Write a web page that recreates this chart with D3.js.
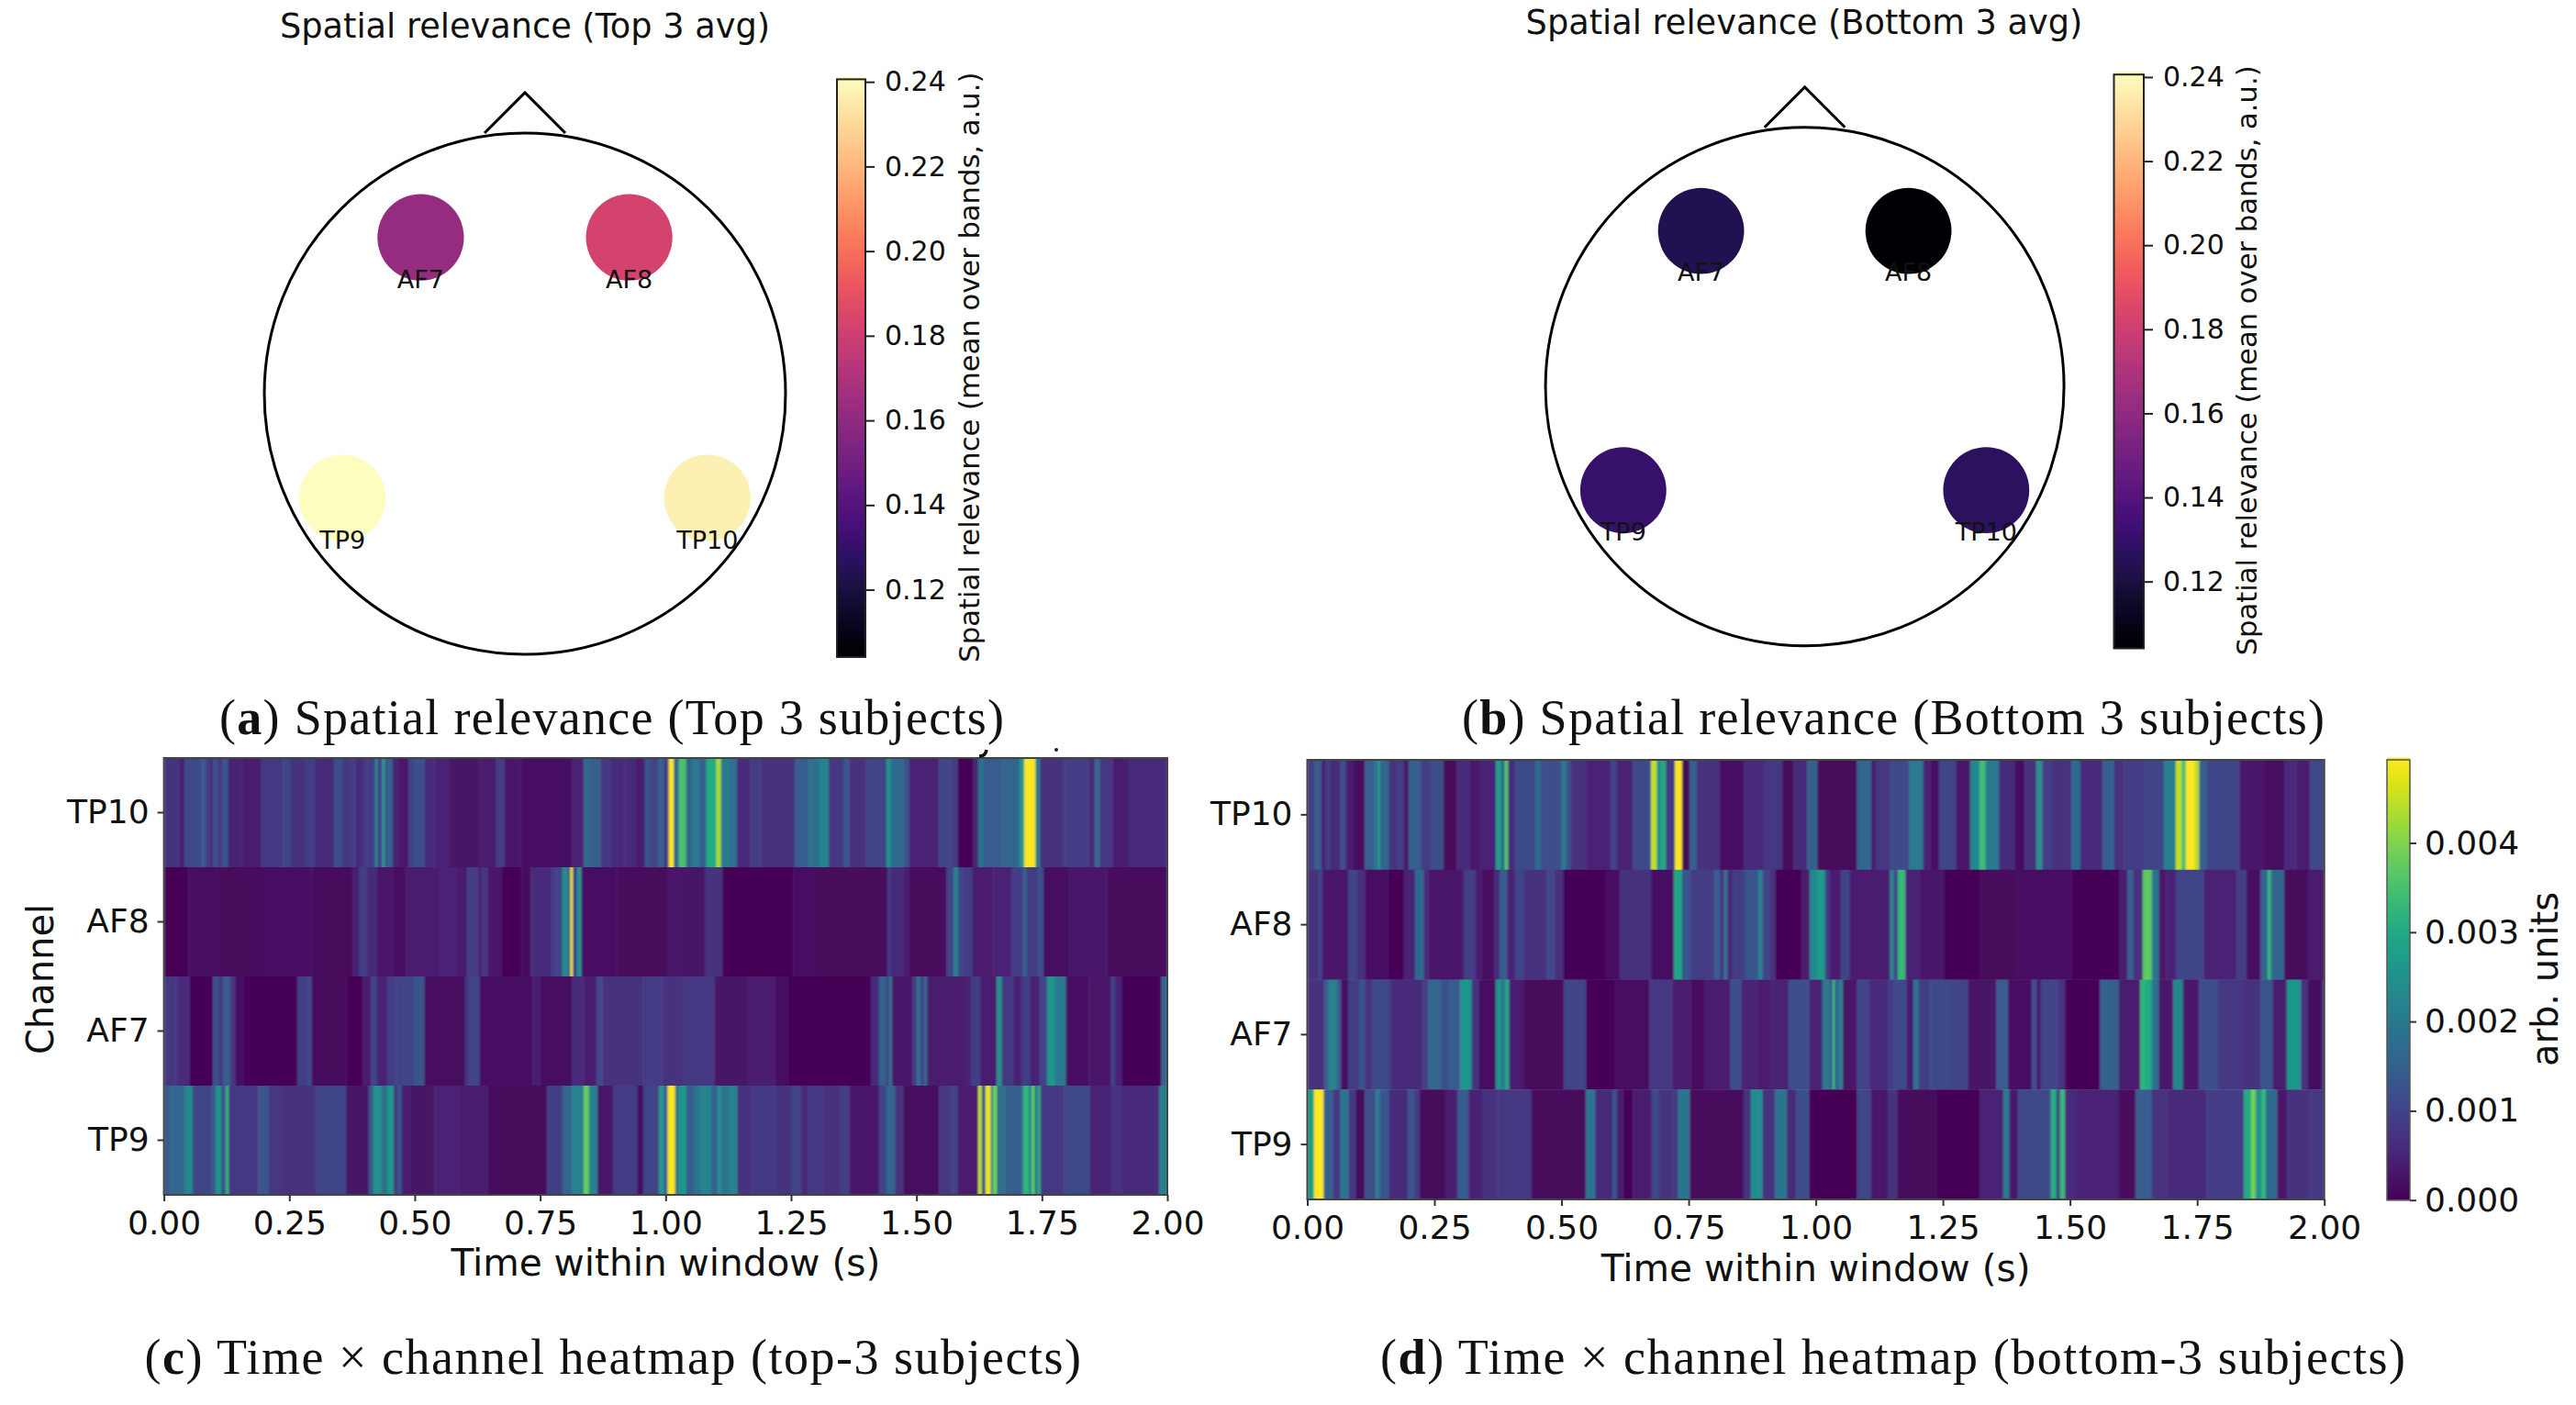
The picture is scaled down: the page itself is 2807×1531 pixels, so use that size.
<!DOCTYPE html>
<html><head><meta charset="utf-8">
<script src="https://cdn.jsdelivr.net/npm/d3@7"></script>
<style>
html,body{margin:0;padding:0;background:#fff}
svg{display:block}
text{font-family:"DejaVu Sans";fill:#111}
.cap{font-family:"Liberation Serif";font-size:54px;fill:#111}
</style></head><body>
<svg id="fig" width="2807" height="1531" viewBox="0 0 2807 1531"></svg>
<script>
// ---------- Data ----------
const channels = ["TP10","AF8","AF7","TP9"];
const timeTicks = [0,0.25,0.5,0.75,1,1.25,1.5,1.75,2];
const heatTicks = [0,1,2,3,4]; // in 1e-3 arb. units
const spatialTicks = [0.12,0.14,0.16,0.18,0.20,0.22,0.24];
const electrodes = [
  {name:"AF7",x:-0.4,y:0.6},{name:"AF8",x:0.4,y:0.6},
  {name:"TP9",x:-0.7,y:-0.4},{name:"TP10",x:0.7,y:-0.4}];
const spatialTop = {AF7:0.162,AF8:0.182,TP9:0.2406,TP10:0.2365};
const spatialBottom = {AF7:0.1235,AF8:0.1041,TP9:0.130,TP10:0.127};
const noseShape = [[-0.155,1],[0,1.155],[0.155,1]];
const heatMax = 4.93; // in 1e-3 arb. units

// Each row: [end of stretch in ms, value in 1e-3 arb. units]
const topTP10 = [[33,.7],[41,.4],[74,1.1],[82,1.4],[94,.9],[98,.4],[106,1.2],[118,.9],[128,1.3],[155,.5],[188,.4],[192,.1],[237,.8],[253,1.0],[282,.7],[302,.9],[339,.6],[355,1.2],[368,.8],[382,.9],[396,.6],[404,.8],[421,.9],[426,2.4],[435,.9],[440,2.8],[445,1.3],[456,1.5],[466,.5],[488,.3],[498,1.0],[519,1.2],[539,.6],[568,.5],[629,.25],[662,.4],[678,.9],[711,.3],[813,.2],[837,.5],[847,1.7],[870,1.5],[890,.8],[918,.6],[940,.6],[955,.4],[959,.6],[970,1.3],[985,1.0],[996,1.5],[1006,.9],[1016,4.9],[1026,1.6],[1041,3.5],[1052,1.5],[1067,2.0],[1081,1.5],[1101,3.0],[1110,4.3],[1127,2.0],[1142,1.8],[1168,.6],[1190,.9],[1220,.7],[1257,.7],[1283,1.4],[1306,1.8],[1325,2.2],[1354,.8],[1366,1.3],[1399,.7],[1440,1.0],[1449,2.5],[1474,1.7],[1485,1.3],[1545,.5],[1567,1.0],[1582,.9],[1613,.05],[1623,.5],[1634,1.9],[1671,1.4],[1705,1.6],[1715,2.6],[1737,4.9],[1746,2.0],[1794,.7],[1843,.9],[1856,.6],[1865,1.7],[1891,.8],[1921,.4],[2000,.6]];
const topAF8 = [[49,.05],[106,.15],[196,.1],[294,.2],[376,.1],[388,.4],[404,.9],[425,.6],[458,.3],[482,.15],[547,.4],[584,.5],[605,.35],[625,.9],[633,.5],[645,.8],[674,.3],[711,.05],[731,.1],[772,.6],[782,.9],[794,1.0],[805,2.4],[810,1.2],[815,4.8],[824,1.0],[832,2.6],[903,.2],[1004,.1],[1034,.3],[1078,.25],[1113,.7],[1254,.03],[1303,.2],[1433,.08],[1442,.1],[1449,.9],[1474,.6],[1485,.4],[1560,.1],[1574,1.0],[1583,2.1],[1593,1.0],[1612,.9],[1653,.35],[1690,.5],[1712,.9],[1720,1.5],[1742,.9],[1753,1.2],[1802,.15],[1880,.3],[2000,.1]];
const topAF7 = [[25,.8],[51,.6],[98,.05],[110,1.2],[118,.8],[131,1.4],[143,.8],[159,.2],[266,.02],[286,.9],[294,1.1],[368,.1],[396,.0],[413,.35],[425,1.0],[445,.5],[462,.9],[498,1.0],[519,1.3],[600,.15],[609,.8],[629,1.0],[735,.2],[752,.4],[813,.15],[837,.6],[862,.4],[874,1.1],[954,.7],[963,.8],[993,.9],[1034,.7],[1097,.8],[1164,.25],[1220,.4],[1246,.15],[1410,.0],[1425,.6],[1440,1.5],[1446,1.0],[1451,1.9],[1492,.3],[1500,.8],[1507,1.9],[1515,1.0],[1521,1.7],[1597,.35],[1608,.5],[1627,.9],[1660,.4],[1670,2.5],[1694,.8],[1709,.5],[1727,.9],[1746,.5],[1761,1.0],[1776,2.6],[1798,2.0],[1843,.2],[1888,.3],[1895,1.1],[1910,.5],[1988,.05],[2000,1.6]];
const topTP9 = [[12,1.3],[41,1.6],[57,2.3],[94,1.0],[104,1.4],[114,2.6],[123,1.2],[129,3.2],[188,.8],[208,1.3],[233,.8],[302,.7],[364,1.0],[408,.25],[418,1.4],[433,2.5],[445,1.8],[458,2.6],[466,.7],[474,1.3],[494,.4],[539,.25],[588,.5],[645,.35],[764,.1],[794,.9],[813,1.6],[837,2.2],[847,3.8],[864,2.2],[895,.3],[944,.9],[955,.1],[987,1.0],[996,2.6],[1004,1.5],[1019,4.9],[1026,1.8],[1041,2.6],[1056,1.4],[1071,1.9],[1090,2.2],[1104,1.6],[1110,2.4],[1127,1.9],[1143,2.2],[1172,.7],[1220,.8],[1250,.7],[1269,1.0],[1283,.6],[1313,.8],[1347,.7],[1366,.9],[1425,.3],[1440,1.0],[1457,1.6],[1474,.7],[1545,.15],[1571,.8],[1582,1.0],[1623,.4],[1630,4.5],[1638,1.5],[1648,4.8],[1653,2.0],[1660,3.9],[1675,1.8],[1712,1.5],[1724,3.2],[1730,2.2],[1735,3.8],[1742,2.0],[1747,3.2],[1794,.8],[1846,1.1],[1888,.5],[1910,.7],[1984,.6],[2000,2.1]];

const botTP10 = [[13,.9],[28,1.4],[35,.4],[46,.9],[65,.6],[76,1.2],[91,.4],[113,.15],[131,1.5],[139,1.8],[143,2.8],[161,1.6],[176,.7],[190,.9],[199,.3],[223,1.5],[242,.9],[268,1.2],[294,.1],[319,.6],[338,.3],[371,.5],[381,2.8],[388,1.6],[395,3.6],[408,.6],[448,1.1],[459,1.7],[500,1.2],[509,2.0],[518,1.3],[548,.7],[596,.5],[609,1.0],[640,.5],[676,1.1],[687,4.5],[695,2.5],[705,3.0],[723,.9],[737,4.9],[752,.1],[766,1.5],[810,.7],[858,.2],[898,.6],[935,.8],[956,.1],[983,.6],[1003,1.5],[1081,.1],[1109,1.6],[1118,.4],[1146,.8],[1183,1.1],[1211,2.0],[1225,.5],[1242,.2],[1276,1.0],[1304,.3],[1322,2.3],[1334,3.4],[1360,2.0],[1392,.6],[1411,.2],[1434,.7],[1445,2.5],[1466,.9],[1503,.7],[1520,1.7],[1564,.6],[1587,1.5],[1606,.7],[1647,.9],[1685,1.0],[1708,2.1],[1719,4.5],[1728,3.5],[1745,4.9],[1754,4.4],[1768,1.5],[1833,1.0],[1880,.3],[1921,.15],[1945,.6],[1972,.4],[2000,1.1]];
const botAF8 = [[22,.7],[29,1.1],[80,.3],[98,1.0],[113,.7],[161,.2],[190,.05],[212,.5],[229,1.7],[238,.6],[307,.3],[330,.9],[345,.4],[367,.15],[378,.6],[393,1.4],[408,.5],[426,1.0],[471,.7],[485,1.1],[504,.7],[585,.02],[614,.2],[676,.7],[721,.2],[737,2.9],[752,1.3],[801,.9],[813,1.4],[819,.6],[826,1.8],[836,.6],[861,.9],[887,1.3],[895,2.2],[909,1.0],[920,.7],[972,.02],[988,.4],[1002,2.3],[1018,2.7],[1027,.9],[1049,.4],[1067,1.0],[1146,.4],[1153,2.3],[1161,1.0],[1176,3.3],[1206,.5],[1253,.3],[1322,.05],[1397,.1],[1503,.2],[1596,.05],[1613,.4],[1624,1.5],[1643,.7],[1661,3.7],[1675,1.9],[1689,.3],[1708,.5],[1763,1.0],[1828,.5],[1847,.9],[1875,.2],[1889,1.6],[1895,3.3],[1921,1.6],[1968,.1],[2000,.4]];
const botAF7 = [[34,.7],[43,1.5],[58,2.2],[66,1.5],[80,.2],[102,.9],[113,1.3],[128,.7],[161,1.1],[168,.8],[227,.6],[238,.9],[264,1.6],[279,1.2],[301,1.4],[323,2.6],[338,.7],[371,.2],[381,2.6],[389,1.9],[397,2.9],[426,.4],[504,.1],[548,1.0],[603,.05],[673,.15],[718,.8],[754,.4],[780,.1],[832,.4],[853,1.2],[884,.5],[913,.4],[946,.5],[987,1.2],[1013,.5],[1027,2.0],[1033,1.4],[1037,3.4],[1046,1.6],[1053,2.2],[1081,.3],[1104,1.0],[1141,.6],[1155,.9],[1178,1.1],[1192,.4],[1202,1.9],[1225,.9],[1262,1.1],[1299,1.0],[1355,.25],[1378,1.4],[1425,.2],[1434,1.2],[1443,.4],[1476,1.0],[1490,.7],[1559,.02],[1596,1.5],[1638,.4],[1647,3.2],[1661,3.0],[1675,1.8],[1703,.3],[1722,2.3],[1754,.3],[1791,1.2],[1838,.8],[1875,.7],[1898,1.3],[1926,.4],[1954,2.6],[1968,.7],[1996,.1],[2000,1.0]];
const botTP9 = [[13,2.7],[32,4.9],[50,1.5],[65,.8],[81,1.9],[96,.8],[113,.1],[135,1.2],[142,2.1],[161,1.3],[198,.6],[209,1.3],[221,.9],[271,.1],[295,.4],[317,1.4],[345,.5],[375,.7],[441,.8],[548,.1],[566,1.9],[600,.6],[609,1.3],[622,.4],[640,.05],[677,.4],[692,1.1],[718,.7],[729,.8],[752,1.9],[858,.1],[872,.7],[895,2.4],[920,.7],[943,1.9],[961,.6],[987,1.2],[1081,.05],[1109,1.0],[1141,.3],[1160,.7],[1239,.1],[1322,.03],[1369,.5],[1381,2.0],[1397,.3],[1462,1.1],[1473,3.1],[1480,1.0],[1490,3.3],[1513,.6],[1596,.5],[1629,.1],[1661,1.4],[1689,.7],[1768,.6],[1842,.9],[1856,3.0],[1865,3.9],[1877,2.5],[1885,3.3],[1907,1.7],[1926,.3],[1972,.7],[2000,.8]];

const topRows = {TP10:topTP10,AF8:topAF8,AF7:topAF7,TP9:topTP9};
const botRows = {TP10:botTP10,AF8:botAF8,AF7:botAF7,TP9:botTP9};

// ---------- Drawing ----------
const svg = d3.select("#fig");
const defs = svg.append("defs");
const blur = defs.append("filter").attr("id","soft").attr("filterUnits","userSpaceOnUse")
  .attr("x",0).attr("y",0).attr("width",2807).attr("height",1531);
blur.append("feGaussianBlur").attr("stdDeviation","1.2 0.7");

const magma = d3.scaleSequential(d3.interpolateMagma).domain([0.1041,0.2406]);
const viridis = d3.scaleSequential(d3.interpolateViridis).domain([0,heatMax]);

function drawTopo(cfg){
  const g = svg.append("g");
  const hx = d3.scaleLinear().domain([-1,1]).range([cfg.cx-cfg.r,cfg.cx+cfg.r]);
  const hy = d3.scaleLinear().domain([-1,1]).range([cfg.cy+cfg.r,cfg.cy-cfg.r]);
  g.append("circle").attr("cx",hx(0)).attr("cy",hy(0)).attr("r",hx(1)-hx(0))
    .attr("fill","none").attr("stroke","#000").attr("stroke-width",3);
  g.append("path").attr("d",d3.line().x(d=>hx(d[0])).y(d=>hy(d[1]))(noseShape))
    .attr("fill","none").attr("stroke","#000").attr("stroke-width",3);
  g.selectAll("circle.e").data(electrodes).join("circle").attr("class","e")
    .attr("cx",d=>hx(d.x)).attr("cy",d=>hy(d.y)).attr("r",hx(0.166)-hx(0))
    .attr("fill",d=>magma(cfg.values[d.name]));
  g.selectAll("text.l").data(electrodes).join("text").attr("class","l")
    .attr("x",d=>hx(d.x)).attr("y",d=>hy(d.y-0.16)).attr("text-anchor","middle")
    .attr("dominant-baseline","central").attr("font-size",27).text(d=>d.name);
  g.append("text").attr("x",cfg.titleX).attr("y",cfg.titleY).attr("text-anchor","middle")
    .attr("dominant-baseline","central").attr("font-size",36.7).text(cfg.title);
  // colour bar
  const b = cfg.bar;
  const cy = d3.scaleLinear().domain([0.1041,0.2406]).range([b.y1,b.y0]);
  const steps = d3.range(0,256).map(i=>0.1041+(0.2406-0.1041)*i/255);
  g.selectAll("rect.c").data(steps).join("rect").attr("class","c")
    .attr("x",b.x0).attr("width",b.x1-b.x0).attr("y",d=>cy(d)-(b.y1-b.y0)/255-0.5)
    .attr("height",(b.y1-b.y0)/255+1).attr("fill",d=>magma(d));
  g.append("rect").attr("x",b.x0).attr("y",b.y0).attr("width",b.x1-b.x0).attr("height",b.y1-b.y0)
    .attr("fill","none").attr("stroke","#222").attr("stroke-width",2);
  const ax = g.append("g").attr("transform",`translate(${b.x1},0)`)
    .call(d3.axisRight(cy).tickValues(spatialTicks).tickFormat(d3.format(".2f")).tickSize(10).tickPadding(11));
  ax.select(".domain").remove();
  ax.selectAll("line").attr("stroke","#222").attr("stroke-width",2);
  ax.selectAll("text").attr("font-size",30).attr("font-family","DejaVu Sans");
  g.append("text").attr("transform",`translate(${b.labelX},${(b.y0+b.y1)/2-1}) rotate(-90)`)
    .attr("text-anchor","middle").attr("dominant-baseline","central").attr("font-size",30.6)
    .text("Spatial relevance (mean over bands, a.u.)");
}

function drawHeat(cfg){
  const g = svg.append("g");
  const {x0,x1,y0,y1} = cfg;
  const tx = d3.scaleLinear().domain([0,2]).range([x0,x1]);
  const ry = d3.scaleBand().domain(channels).range([y0,y1]);
  const clipId = "clip"+cfg.id;
  defs.append("clipPath").attr("id",clipId).append("rect")
    .attr("x",x0).attr("y",y0).attr("width",x1-x0).attr("height",y1-y0);
  const marks = g.append("g").attr("clip-path",`url(#${clipId})`).append("g").attr("filter","url(#soft)");
  channels.forEach(ch=>{
    let prev = 0;
    cfg.rows[ch].forEach(([end,v])=>{
      marks.append("rect").attr("x",tx(prev/1000)).attr("y",ry(ch))
        .attr("width",tx(end/1000)-tx(prev/1000)+0.4).attr("height",ry.bandwidth()+0.4)
        .attr("fill",viridis(v));
      prev = end;
    });
  });
  g.append("rect").attr("x",x0).attr("y",y0).attr("width",x1-x0).attr("height",y1-y0)
    .attr("fill","none").attr("stroke","#444").attr("stroke-width",2);
  const bx = g.append("g").attr("transform",`translate(0,${y1})`)
    .call(d3.axisBottom(tx).tickValues(timeTicks).tickFormat(d3.format(".2f")).tickSize(7).tickPadding(10));
  const by = g.append("g").attr("transform",`translate(${x0},0)`)
    .call(d3.axisLeft(ry).tickSize(7).tickPadding(9));
  [bx,by].forEach(a=>{
    a.select(".domain").remove();
    a.selectAll("line").attr("stroke","#333").attr("stroke-width",2);
    a.selectAll("text").attr("font-size",36).attr("font-family","DejaVu Sans");
  });
  g.append("text").attr("x",(x0+x1)/2).attr("y",cfg.xLabelY).attr("text-anchor","middle")
    .attr("dominant-baseline","central").attr("font-size",40.6).text("Time within window (s)");
  if(cfg.channelLabelX) g.append("text")
    .attr("transform",`translate(${cfg.channelLabelX},${(y0+y1)/2+3}) rotate(-90)`)
    .attr("text-anchor","middle").attr("dominant-baseline","central").attr("font-size",40).text("Channel");
}

drawTopo({cx:572,cy:429,r:284,values:spatialTop,title:"Spatial relevance (Top 3 avg)",titleX:572,titleY:28,
  bar:{x0:912,x1:943,y0:86.4,y1:715.9,labelX:1056}});
drawTopo({cx:1966.6,cy:421.2,r:282.5,values:spatialBottom,title:"Spatial relevance (Bottom 3 avg)",titleX:1966,titleY:24,
  bar:{x0:2303.5,x1:2336,y0:81.2,y1:706.5,labelX:2448}});
drawHeat({id:"c",rows:topRows,x0:178.6,x1:1272,y0:826,y1:1302,xLabelY:1376,channelLabelX:44});
drawHeat({id:"d",rows:botRows,x0:1424.5,x1:2532.7,y0:828,y1:1307,xLabelY:1382});

// Heat colour bar
(function(){
  const g = svg.append("g");
  const X0=2601,X1=2626,Y0=828,Y1=1307.7;
  const cy = d3.scaleLinear().domain([0,heatMax]).range([Y1,Y0]);
  const steps = d3.range(0,256).map(i=>heatMax*i/255);
  g.selectAll("rect").data(steps).join("rect").attr("x",X0).attr("width",X1-X0)
    .attr("y",d=>cy(d)-(Y1-Y0)/255-0.5).attr("height",(Y1-Y0)/255+1).attr("fill",d=>viridis(d));
  g.append("rect").attr("x",X0).attr("y",Y0).attr("width",X1-X0).attr("height",Y1-Y0)
    .attr("fill","none").attr("stroke","#555").attr("stroke-width",1.5);
  const ax = g.append("g").attr("transform",`translate(${X1},0)`)
    .call(d3.axisRight(cy).tickValues(heatTicks).tickFormat(d=>d3.format(".3f")(d/1000)).tickSize(7).tickPadding(9));
  ax.select(".domain").remove();
  ax.selectAll("line").attr("stroke","#333").attr("stroke-width",2);
  ax.selectAll("text").attr("font-size",36).attr("font-family","DejaVu Sans");
  g.append("text").attr("transform",`translate(2773,1067) rotate(-90)`)
    .attr("text-anchor","middle").attr("dominant-baseline","central").attr("font-size",40).text("arb. units");
})();

// Captions
function caption(letter,rest,x,x2,y){
  const t = svg.append("text").attr("class","cap").attr("x",x).attr("y",y);
  t.append("tspan").text("(");
  t.append("tspan").attr("font-weight","bold").text(letter);
  t.append("tspan").text(") "+rest);
  const w = t.node().getComputedTextLength();
  const n = (letter+rest).length+3;
  t.style("letter-spacing",((x2-x-w)/(n-1))+"px");
}
caption("a","Spatial relevance (Top 3 subjects)",239,1094,800);
caption("b","Spatial relevance (Bottom 3 subjects)",1593,2533,800);
caption("c","Time × channel heatmap (top-3 subjects)",157.5,1178,1497);
caption("d","Time × channel heatmap (bottom-3 subjects)",1504,2621,1497);

// Stray printed specks above panel (c), present in the source figure
svg.append("path").attr("d","M1067,824 Q1074,824 1075,817").attr("fill","none").attr("stroke","#111").attr("stroke-width",3.5);
svg.append("circle").attr("cx",1151).attr("cy",817).attr("r",2).attr("fill","#222");
</script>
</body></html>
